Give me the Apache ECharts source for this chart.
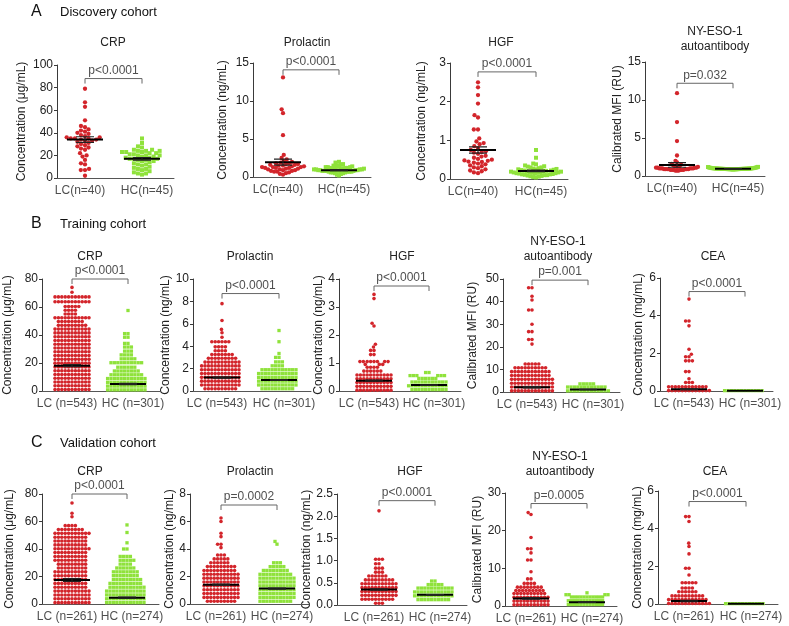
<!DOCTYPE html>
<html><head><meta charset="utf-8">
<script src="https://cdn.jsdelivr.net/npm/echarts@6/dist/echarts.min.js"></script>
<style>html,body{margin:0;padding:0;background:#fff}#c{width:789px;height:626px}</style>
</head><body><div id="c"></div>
<script>
// ================= DATA =================
const A_TITLES = ['CRP', 'Prolactin', 'HGF', 'NY-ESO-1\nautoantibody'];
const BC_TITLES = ['CRP', 'Prolactin', 'HGF', 'NY-ESO-1\nautoantibody', 'CEA'];
const A_YNAMES = ['Concentration (μg/mL)', 'Concentration (ng/mL)', 'Concentration (ng/mL)', 'Calibrated MFI (RU)'];
const BC_YNAMES = ['Concentration (μg/mL)', 'Concentration (ng/mL)', 'Concentration (ng/mL)', 'Calibrated MFI (RU)', 'Concentration (mg/mL)'];
const A_XLABELS = ['LC(n=40)', 'HC(n=45)'];
const B_XLABELS = ['LC (n=543)', 'HC (n=301)'];
const C_XLABELS = ['LC (n=261)', 'HC (n=274)'];
const SECTIONS = ['A', 'B', 'C'];
const SECTION_NAMES = ['Discovery cohort', 'Training cohort', 'Validation cohort'];

const A_YMAX = [100, 15, 3, 15];      const A_YINT = [20, 5, 1, 5];
const B_YMAX = [80, 10, 4, 50, 6];    const B_YINT = [20, 2, 1, 10, 2];
const C_YMAX = [80, 8, 2.5, 30, 6];   const C_YINT = [20, 2, 0.5, 10, 2];

const A_P = ['p<0.0001', 'p<0.0001', 'p<0.0001', 'p=0.032'];
const B_P = ['p<0.0001', 'p<0.0001', 'p<0.0001', 'p=0.001', 'p<0.0001'];
const C_P = ['p<0.0001', 'p=0.0002', 'p<0.0001', 'p=0.0005', 'p<0.0001'];

const A_MEAN_LC = [34, 1.95, 0.75, 1.45];        const A_SEM_LC = [2.5, 0.4, 0.08, 0.3];
const A_MEAN_HC = [17, 0.9, 0.21, 0.95];         const A_SEM_HC = [1.1, 0.06, 0.02, 0.01];
const B_MEAN_LC = [18.1, 1.2, 0.37, 2.1, 0.09];  const B_SEM_LC = [0.7, 0.05, 0.02, 0.25, 0.02];
const B_MEAN_HC = [5, 0.98, 0.21, 1.1, 0.01];    const B_SEM_HC = [0.5, 0.04, 0.01, 0.03, 0];
const C_MEAN_LC = [17.5, 1.4, 0.35, 2.0, 0.16];  const C_SEM_LC = [1.0, 0.05, 0.015, 0.2, 0.04];
const C_MEAN_HC = [4.5, 1.12, 0.23, 1.0, 0.01];  const C_SEM_HC = [0.5, 0.04, 0.006, 0.03, 0];

// Discovery cohort: individual values
const A_CRP_LC = [79,67,63,51,46,45,43,42,41,40,39,38,37,36,36,35,35,35,34,34,33,33,32,31,30,29,28,27,26,25,22,20,19,16,13,12,8,7,7,2];
const A_CRP_HC = [35,31,28,27,25,25,24,24,24,23,23,23,22,22,21,21,20,20,20,19,19,18,18,17,17,17,16,16,15,15,14,13,12,12,11,10,9,8,8,7,6,5,4,4,3];
const A_PRL_LC = [13.1,8.9,8.4,5.5,2.9,2.5,2.3,2.1,2.0,1.9,1.8,1.8,1.7,1.7,1.6,1.6,1.5,1.5,1.4,1.4,1.3,1.3,1.3,1.2,1.2,1.2,1.1,1.1,1.0,1.0,0.9,0.9,0.8,0.8,0.7,0.7,0.6,0.5,0.4,0.3];
const A_PRL_HC = [2.0,1.9,1.7,1.6,1.5,1.5,1.4,1.4,1.3,1.3,1.3,1.2,1.2,1.2,1.1,1.1,1.1,1.1,1.0,1.0,1.0,1.0,1.0,0.9,0.9,0.9,0.9,0.9,0.8,0.8,0.8,0.8,0.8,0.7,0.7,0.7,0.7,0.6,0.6,0.6,0.5,0.5,0.4,0.3,0.2];
const A_HGF_LC = [2.5,2.37,2.17,1.95,1.65,1.59,1.28,1.28,1.05,0.97,0.93,0.9,0.85,0.8,0.75,0.72,0.7,0.68,0.65,0.6,0.58,0.55,0.52,0.5,0.48,0.47,0.45,0.44,0.42,0.4,0.38,0.35,0.33,0.3,0.28,0.25,0.22,0.2,0.17,0.15];
const A_HGF_HC = [0.75,0.55,0.4,0.38,0.35,0.33,0.32,0.3,0.3,0.28,0.27,0.26,0.25,0.25,0.24,0.23,0.22,0.22,0.21,0.2,0.2,0.19,0.19,0.18,0.18,0.17,0.17,0.16,0.16,0.15,0.15,0.14,0.14,0.13,0.12,0.12,0.11,0.1,0.1,0.09,0.08,0.07,0.06,0.05,0.04];
const A_NY_LC = [10.9,7.1,4.6,2.7,2.0,1.8,1.6,1.5,1.4,1.3,1.3,1.2,1.2,1.2,1.1,1.1,1.1,1.1,1.0,1.0,1.0,1.0,1.0,1.0,0.9,0.9,0.9,0.9,0.9,0.9,0.9,0.8,0.8,0.8,0.8,0.8,0.8,0.7,0.7,0.7];
const A_NY_HC = [1.2,1.18,1.15,1.12,1.1,1.08,1.06,1.05,1.04,1.03,1.02,1.01,1.0,1.0,0.99,0.99,0.98,0.98,0.97,0.97,0.96,0.96,0.95,0.95,0.95,0.94,0.94,0.94,0.93,0.93,0.93,0.92,0.92,0.92,0.91,0.91,0.9,0.9,0.9,0.89,0.89,0.88,0.88,0.87,0.86];

// Training / validation cohorts: value levels and number of dots at each level
const B_CRP_LC_LV = [1,3.7,6.4,9.1,11.8,14.5,17.2,19.9,22.6,25.3,28,30.7,33.4,36.1,38.8,41.5,44.2,46.9,49.6,52.3,55,57.7,60.4,63.8,67.2,70.5,74];
const B_CRP_LC_N  = [11,11,11,11,11,11,11,11,11,11,11,11,11,11,11,11,11,9,8,11,4,4,5,11,11,1,1];
const B_CRP_HC_LV = [0.8,3.5,6.2,8.9,11.6,14.3,17,20.2,23,25.8,28.5,31.4,34,38.4,41,57.5];
const B_CRP_HC_N  = [12,12,12,12,10,8,6,10,5,4,3,3,2,2,2,1];
const B_PRL_LC_LV = [0.2,0.54,0.88,1.22,1.56,1.9,2.24,2.58,2.92,3.26,3.6,3.94,4.4,4.8,5.2,5.5,6.3,7.8];
const B_PRL_LC_N  = [10,12,12,12,12,12,12,11,9,7,4,4,6,1,1,1,1,1];
const B_PRL_HC_LV = [0.2,0.54,0.88,1.22,1.56,1.9,2.25,2.6,3.0,3.35,4.4,5.4];
const B_PRL_HC_N  = [10,12,12,12,12,11,4,3,2,1,1,1];
const B_HGF_LC_LV = [0.03,0.166,0.302,0.438,0.574,0.71,0.85,0.95,1.05,1.3,1.45,1.57,1.67,2.32,2.42,3.3,3.45];
const B_HGF_LC_N  = [11,11,11,11,11,6,4,3,8,2,2,1,1,1,1,1,1];
const B_HGF_HC_LV = [0.05,0.186,0.322,0.45,0.55,0.66];
const B_HGF_HC_N  = [11,12,11,6,6,2];
const B_NY_LC_LV  = [0.5,2.2,3.9,5.6,7.3,9.0,10.7,12.4,21.2,23.2,26.7,30,36.3,40.7,42.4,46.1];
const B_NY_LC_N   = [13,13,13,13,12,12,10,5,1,2,2,1,2,1,1,2];
const B_NY_HC_LV  = [0.5,2.2,3.6];
const B_NY_HC_N   = [13,12,5];
const B_CEA_LC_LV = [0.02,0.22,0.45,0.65,1.03,1.6,1.82,1.95,2.22,3.46,3.72,4.88];
const B_CEA_LC_N  = [13,12,3,1,2,3,2,1,1,1,2,1];
const B_CEA_HC_LV = [0.02];
const B_CEA_HC_N  = [12];

const C_CRP_LC_LV = [1,3.8,6.6,9.4,12.2,15,17.8,20.6,23.4,26.2,29,31.8,34.6,37.4,40.2,43,45.8,48.6,51.4,54.2,57,63.5,66,73.5];
const C_CRP_LC_N  = [11,11,11,11,10,10,10,10,10,9,9,10,10,10,11,10,10,10,11,8,4,1,1,1];
const C_CRP_HC_LV = [1,3.8,6.6,9.4,12.2,15,17.8,20.6,23.4,26.2,29,31.8,34.6,40,44.5,52,57.5];
const C_CRP_HC_N  = [12,12,12,12,11,10,9,8,8,6,4,5,4,2,1,1,1];
const C_PRL_LC_LV = [0.2,0.48,0.76,1.04,1.32,1.6,1.88,2.16,2.44,2.72,3.0,3.28,3.56,4.1,4.35,4.9,5.15,6.0,6.25];
const C_PRL_LC_N  = [9,11,11,11,11,11,11,11,10,9,6,5,3,1,2,1,1,1,1];
const C_PRL_HC_LV = [0.2,0.48,0.76,1.04,1.32,1.6,1.88,2.16,2.44,2.72,3.0,4.35,4.55];
const C_PRL_HC_N  = [10,11,11,11,11,11,11,10,8,5,3,1,1];
const C_HGF_LC_LV = [0.04,0.13,0.217,0.304,0.391,0.478,0.565,0.652,0.74,0.83,0.93,1.03,2.12];
const C_HGF_LC_N  = [3,10,11,11,11,11,9,6,3,3,2,3,1];
const C_HGF_HC_LV = [0.12,0.207,0.294,0.381,0.46,0.54];
const C_HGF_HC_N  = [10,12,12,11,5,2];
const C_NY_LC_LV  = [0.3,1.3,2.3,3.3,4.1,5.0,6.0,7.2,9.1,12.2,14.1,15.2,18.2,24.3,24.8];
const C_NY_LC_N   = [11,11,11,10,9,8,4,2,1,2,1,2,1,1,1];
const C_NY_HC_LV  = [0.4,1.4,2.4,3.0,3.5];
const C_NY_HC_N   = [12,12,11,4,1];
const C_CEA_LC_LV = [0.03,0.23,0.43,0.65,0.85,1.13,1.54,1.9,2.66,3.05,3.23,4.38,4.64];
const C_CEA_LC_N  = [13,12,10,6,4,5,1,2,1,1,1,1,2];
const C_CEA_HC_LV = [0.02];
const C_CEA_HC_N  = [12];

// ================= LAYOUT (pixels) =================
// [yAxisX, lcCenterX, hcCenterX, xAxisEndX, topY, zeroY]
const A_LAYOUT = [[57,85,142,174,65,178],[253,283,339,371,63,177],[450,478,536,568,63,179],[645,677,733,765,62,176]];
const B_LAYOUT = [[42,72,128,160,279,391],[193,222,279,311,279,391],[339,374,429,461,279,391],[503,532,588,620,279,392],[660,689,745,773,278,391]];
const C_LAYOUT = [[42,72,127,159,494,604],[190,221,277,309,494,604],[337,379,435,467,494,605],[505,531,587,617,493,606],[658,689,746,778,491,604]];
const A_BRK = [88, 14.1, 2.77, 12.2];
const B_BRK = [80, 8.7, 3.75, 49.5, 5.28];
const C_BRK = [80, 7.2, 2.35, 27.2, 5.44];
const A_NAMEOFF = [35, 30, 28, 27];
const B_NAMEOFF = [34, 26, 17, 30, 21];
const C_NAMEOFF = [32, 20, 22, 27, 19];
const A_TX = [113, 307, 501, 715];       const A_TY = [43, 43, 43, 39.5];
const B_TX = [90, 250, 402, 558, 713];   const B_TY = [257, 257, 257, 249, 257];
const C_TX = [90, 250, 410, 560, 715];   const C_TY = [472, 472, 472, 464.5, 472];
const SECTION_Y = [12, 224, 443];

// ================= BUILD =================
const RED = '#d3252b', GREEN = '#8fe23b', AXIS = '#3a3a3a', BRACKET = '#666';
const FONT = "'Liberation Sans', Arial, Helvetica, sans-serif";

function expand(lv, n) { const out = []; lv.forEach((v, i) => { for (let k = 0; k < n[i]; k++) out.push(v); }); return out; }

// beeswarm offsets (pixels) for values; ppu = pixels per unit on y
function swarm(vals, ppu, d, maxHalf) {
  const pts = vals.map((v, i) => ({ y: v * ppu, i })).sort((a, b) => a.y - b.y);
  const placed = []; const out = new Array(vals.length).fill(0);
  for (const p of pts) {
    const iv = [];
    for (let k = placed.length - 1; k >= 0; k--) {
      const q = placed[k]; const dy = p.y - q.y;
      if (dy >= d) break;
      const dx = Math.sqrt(d * d - dy * dy);
      iv.push([q.x - dx, q.x + dx]);
    }
    const cands = [0];
    iv.forEach(r => cands.push(r[0], r[1]));
    cands.sort((a, b) => (Math.abs(a) - Math.abs(b)) || (a - b));
    let x = 0;
    for (const c of cands) {
      if (iv.every(r => c <= r[0] + 1e-6 || c >= r[1] - 1e-6)) { x = c; break; }
    }
    placed.push({ y: p.y, x }); out[p.i] = x;
  }
  const m = Math.max(0, ...out.map(Math.abs));
  if (m > maxHalf) for (let k = 0; k < out.length; k++) out[k] *= maxHalf / m;
  return out;
}

const option = { animation: false, textStyle: { fontFamily: FONT }, grid: [], xAxis: [], yAxis: [], series: [], graphic: [] };

function seg(idx, data, color, width, z) {
  option.series.push({ type: 'line', xAxisIndex: idx, yAxisIndex: idx, data, symbol: 'none', silent: true, clip: false,
    lineStyle: { color, width }, z, animation: false });
}

function addPanel(p) {
  const idx = option.grid.length;
  const [axX, lcX, hcX, endX, topY, zeroY] = p.layout;
  const unit = hcX - lcX;
  const xmin = 1 - (lcX - axX) / unit;
  const xmax = xmin + (endX - axX) / unit;
  const H = zeroY - topY;
  const ppu = H / p.ymax;
  option.grid.push({ left: axX, top: topY, width: endX - axX, height: H });
  option.xAxis.push({ gridIndex: idx, type: 'value', min: xmin, max: xmax,
    axisLine: { show: true, onZero: false, lineStyle: { color: '#555', width: 1 } },
    axisTick: { show: false }, axisLabel: { show: false }, splitLine: { show: false } });
  option.yAxis.push({ gridIndex: idx, type: 'value', min: 0, max: p.ymax, interval: p.yint,
    name: p.yname, nameLocation: 'middle', nameGap: p.nameOff - 6,
    nameTextStyle: { fontSize: 12, color: '#222', fontFamily: FONT },
    axisLine: { show: true, lineStyle: { color: AXIS, width: 1 } },
    axisTick: { show: true, length: 3, lineStyle: { color: AXIS } },
    axisLabel: { fontSize: 12, color: '#222', margin: 4, fontFamily: FONT,
      formatter: p.dec ? (v => v.toFixed(p.dec)) : (v => String(v)) },
    splitLine: { show: false } });
  const big = p.big;
  const d = big ? 4.2 : 3.4;
  const groups = [
    { vals: p.lc, x: 1, color: RED, symbol: 'circle', size: big ? 4.3 : 3.6, maxHalf: big ? 21 : 21 },
    { vals: p.hc, x: 2, color: GREEN, symbol: 'rect', size: big ? 4.0 : 3.3, maxHalf: big ? 25 : 21 }
  ];
  groups.forEach(g => {
    const off = swarm(g.vals, ppu, d, g.maxHalf);
    option.series.push({ type: 'scatter', xAxisIndex: idx, yAxisIndex: idx, silent: true, clip: false, z: 2,
      symbol: g.symbol, symbolSize: g.size, itemStyle: { color: g.color, opacity: 1 },
      data: g.vals.map((v, i) => [g.x + off[i] / unit, v]) });
  });
  const hw = 18 / unit, hs = 9 / unit;
  [[1, p.mLC, p.sLC], [2, p.mHC, p.sHC]].forEach(([x, m, s]) => {
    seg(idx, [[x - hw, m], [x + hw, m]], '#000', 2, 5);
    if (s > 0) {
      seg(idx, [[x, m - s], [x, m + s]], '#222', 1.2, 5);
      seg(idx, [[x - hs, m + s], [x + hs, m + s]], '#222', 1.2, 5);
      seg(idx, [[x - hs, m - s], [x + hs, m - s]], '#222', 1.2, 5);
    }
  });
  const t = 5 / ppu;
  seg(idx, [[1, p.brk - t], [1, p.brk], [2, p.brk], [2, p.brk - t]], BRACKET, 1, 4);
  option.series.push({ type: 'scatter', xAxisIndex: idx, yAxisIndex: idx, silent: true, clip: false, symbolSize: 0,
    data: [{ name: p.pText, value: [1.5, p.brk] }],
    label: { show: true, position: 'top', distance: 2, formatter: '{b}', fontSize: 12, color: '#222', fontFamily: FONT } });
  option.series.push({ type: 'scatter', xAxisIndex: idx, yAxisIndex: idx, silent: true, clip: false, symbolSize: 0,
    data: [{ name: p.xl[0], value: [1, 0], label: { offset: [-5, 0] } }, { name: p.xl[1], value: [2, 0], label: { offset: [5, 0] } }],
    label: { show: true, position: 'bottom', distance: 7, formatter: '{b}', fontSize: 12, color: '#222', fontFamily: FONT } });
  option.graphic.push({ type: 'text', x: p.tx, y: p.ty, silent: true,
    style: { text: p.title, fontSize: 12, fontFamily: FONT, fill: '#222', align: 'center', verticalAlign: 'middle', lineHeight: 15 } });
}

const A_GROUPS = [[A_CRP_LC, A_CRP_HC], [A_PRL_LC, A_PRL_HC], [A_HGF_LC, A_HGF_HC], [A_NY_LC, A_NY_HC]];
const B_GROUPS = [
  [expand(B_CRP_LC_LV, B_CRP_LC_N), expand(B_CRP_HC_LV, B_CRP_HC_N)],
  [expand(B_PRL_LC_LV, B_PRL_LC_N), expand(B_PRL_HC_LV, B_PRL_HC_N)],
  [expand(B_HGF_LC_LV, B_HGF_LC_N), expand(B_HGF_HC_LV, B_HGF_HC_N)],
  [expand(B_NY_LC_LV, B_NY_LC_N), expand(B_NY_HC_LV, B_NY_HC_N)],
  [expand(B_CEA_LC_LV, B_CEA_LC_N), expand(B_CEA_HC_LV, B_CEA_HC_N)]];
const C_GROUPS = [
  [expand(C_CRP_LC_LV, C_CRP_LC_N), expand(C_CRP_HC_LV, C_CRP_HC_N)],
  [expand(C_PRL_LC_LV, C_PRL_LC_N), expand(C_PRL_HC_LV, C_PRL_HC_N)],
  [expand(C_HGF_LC_LV, C_HGF_LC_N), expand(C_HGF_HC_LV, C_HGF_HC_N)],
  [expand(C_NY_LC_LV, C_NY_LC_N), expand(C_NY_HC_LV, C_NY_HC_N)],
  [expand(C_CEA_LC_LV, C_CEA_LC_N), expand(C_CEA_HC_LV, C_CEA_HC_N)]];

const ROWS = [
  { titles: A_TITLES, ynames: A_YNAMES, xl: A_XLABELS, ymax: A_YMAX, yint: A_YINT, p: A_P, mLC: A_MEAN_LC, sLC: A_SEM_LC, mHC: A_MEAN_HC, sHC: A_SEM_HC,
    groups: A_GROUPS, layout: A_LAYOUT, brk: A_BRK, off: A_NAMEOFF, tx: A_TX, ty: A_TY, big: true },
  { titles: BC_TITLES, ynames: BC_YNAMES, xl: B_XLABELS, ymax: B_YMAX, yint: B_YINT, p: B_P, mLC: B_MEAN_LC, sLC: B_SEM_LC, mHC: B_MEAN_HC, sHC: B_SEM_HC,
    groups: B_GROUPS, layout: B_LAYOUT, brk: B_BRK, off: B_NAMEOFF, tx: B_TX, ty: B_TY, big: false },
  { titles: BC_TITLES, ynames: BC_YNAMES, xl: C_XLABELS, ymax: C_YMAX, yint: C_YINT, p: C_P, mLC: C_MEAN_LC, sLC: C_SEM_LC, mHC: C_MEAN_HC, sHC: C_SEM_HC,
    groups: C_GROUPS, layout: C_LAYOUT, brk: C_BRK, off: C_NAMEOFF, tx: C_TX, ty: C_TY, big: false }
];

ROWS.forEach((r, ri) => {
  r.titles.forEach((title, i) => {
    const yint = r.yint[i];
    const dec = (Math.round(yint) !== yint) ? 1 : 0;
    addPanel({ layout: r.layout[i], ymax: r.ymax[i], yint, yname: r.ynames[i], nameOff: r.off[i], dec,
      title, tx: r.tx[i], ty: r.ty[i], pText: r.p[i], brk: r.brk[i], lc: r.groups[i][0], hc: r.groups[i][1],
      mLC: r.mLC[i], sLC: r.sLC[i], mHC: r.mHC[i], sHC: r.sHC[i], xl: r.xl, big: r.big });
  });
  option.graphic.push({ type: 'text', x: 31, y: SECTION_Y[ri], silent: true,
    style: { text: SECTIONS[ri], fontSize: 16, fontFamily: FONT, fill: '#111', align: 'left', verticalAlign: 'middle' } });
  option.graphic.push({ type: 'text', x: 60, y: SECTION_Y[ri], silent: true,
    style: { text: SECTION_NAMES[ri], fontSize: 13, fontFamily: FONT, fill: '#111', align: 'left', verticalAlign: 'middle' } });
});

const chart = echarts.init(document.getElementById('c'), null, { renderer: 'canvas' });
chart.setOption(option);
</script>
</body></html>
